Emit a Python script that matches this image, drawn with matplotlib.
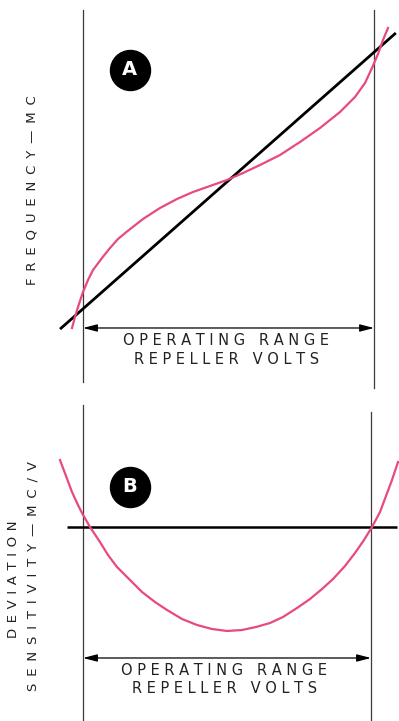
import matplotlib.pyplot as plt

PINK = "#e8497e"
RULE = "#3a3a3a"

# --- panel A: frequency vs repeller voltage (operating range = 0..100) ---
a_volts = [-3.78, -2.75, -1.72, 0.0, 1.72, 3.44, 6.53, 9.28, 12.03, 15.12,
           20.62, 26.46, 32.30, 37.80, 43.64, 49.48, 54.98, 60.82, 67.70,
           74.57, 81.44, 88.32, 93.47, 96.91, 99.31, 101.37, 103.09, 104.81]
a_freq = [0.67, 4.33, 7.67, 12.67, 16.67, 20.0, 24.0, 27.33, 30.33, 32.83,
          37.0, 40.67, 43.67, 46.0, 48.0, 50.0, 52.33, 55.0, 58.33,
          62.67, 67.33, 72.67, 77.67, 82.33, 87.33, 92.0, 96.67, 100.67]
# ideal linear tuning
a_line_volts = [-7.9, 107.5]
a_line_freq = [0.3, 99.0]

# --- panel B: deviation sensitivity vs repeller voltage ---
b_volts = [-7.99, -5.90, -3.82, -1.74, -0.35, 2.43, 5.90, 8.68, 11.81, 16.32,
           20.49, 25.0, 29.17, 34.38, 39.58, 44.79, 50.0, 55.21, 60.07, 64.93,
           69.44, 74.31, 78.82, 82.99, 86.81, 90.97, 94.44, 97.57, 100.35,
           103.13, 105.21, 107.29, 109.38]
b_sens = [66.67, 61.33, 56.0, 51.67, 49.0, 44.33, 39.33, 35.0, 31.0, 26.67,
          22.67, 19.33, 16.67, 13.67, 11.67, 10.33, 9.67, 10.0, 11.0, 12.33,
          14.33, 17.33, 20.33, 23.67, 27.0, 31.33, 35.67, 40.0, 44.33,
          49.33, 54.67, 60.0, 66.0]
b_line_volts = [-5.6, 109.0]
b_line_sens = [44.3, 44.3]

range_lo, range_hi = 0, 100
range_label = "OPERATING RANGE"
volts_label = "REPELLER VOLTS"


def spread(s, gap=" "):
    # wide letter spacing like the drafting lettering
    return gap.join(s)


def range_arrow(ax, y, ytext1, ytext2, xmid):
    ax.annotate("", xy=(range_lo, y), xytext=(range_hi, y),
                arrowprops=dict(arrowstyle="<|-|>,head_length=0.85,head_width=0.22",
                                mutation_scale=10, color="black", lw=0.9,
                                shrinkA=0, shrinkB=0))
    ax.text(xmid, ytext1, spread(range_label), ha="center", va="center",
            fontsize=10.5, color="#222")
    ax.text(xmid, ytext2, spread(volts_label), ha="center", va="center",
            fontsize=10.5, color="#222")


def badge(ax, x, y, letter):
    ax.scatter([x], [y], s=830, color="black", zorder=5)
    ax.text(x, y, letter, ha="center", va="center", color="white",
            fontsize=14, fontweight="bold", zorder=6)


W, H = 399, 721
fig = plt.figure(figsize=(W / 100, H / 100), dpi=100)

# panel A occupies the top 395 px
axA = fig.add_axes([0, (H - 395) / H, 1, 395 / H])
axA.set_xlim(-83 / 2.91, (W - 83) / 2.91)
axA.set_ylim((330 - 395) / 3, 330 / 3)
axA.axis("off")

axA.plot([range_lo, range_lo], [106.7, -17.3], color=RULE, lw=0.9)
axA.plot([range_hi, range_hi], [106.7, -19.3], color=RULE, lw=0.9)
axA.plot(a_line_volts, a_line_freq, color="black", lw=2.0, solid_capstyle="butt")
axA.plot(a_volts, a_freq, color=PINK, lw=1.6, solid_joinstyle="round")
range_arrow(axA, 0.67, -3.6, -10.0, 49.3)
badge(axA, 16.1, 86.7, "A")

# panel B occupies the rest
axB = fig.add_axes([0, 0, 1, (H - 395) / H])
axB.set_xlim(-83 / 2.88, (W - 83) / 2.88)
axB.set_ylim((660 - H) / 3, (660 - 395) / 3)
axB.axis("off")

axB.plot([range_lo, range_lo], [(660 - 405) / 3, -21], color=RULE, lw=0.9)
axB.plot([range_hi, range_hi], [(660 - 412) / 3, -21], color=RULE, lw=0.9)
axB.plot(b_line_volts, b_line_sens, color="black", lw=1.8, solid_capstyle="butt")
axB.plot(b_volts, b_sens, color=PINK, lw=1.6, solid_joinstyle="round")
range_arrow(axB, 0.67, -3.6, -9.6, 49.0)
badge(axB, 16.3, 57.7, "B")

# axis titles, rotated
fig.text(32 / W, 1 - 190 / H, spread("FREQUENCY—MC", " \u2009"), rotation=90,
         ha="center", va="center", fontsize=9.5, color="#222")
fig.text(14 / W, 1 - 579 / H, spread("DEVIATION", " \u200a"), rotation=90,
         ha="center", va="center", fontsize=9.5, color="#222")
fig.text(33 / W, 1 - 576 / H, spread("SENSITIVITY—MC/V", " \u2009"), rotation=90,
         ha="center", va="center", fontsize=9.5, color="#222")

fig.savefig("out.png", dpi=100)
